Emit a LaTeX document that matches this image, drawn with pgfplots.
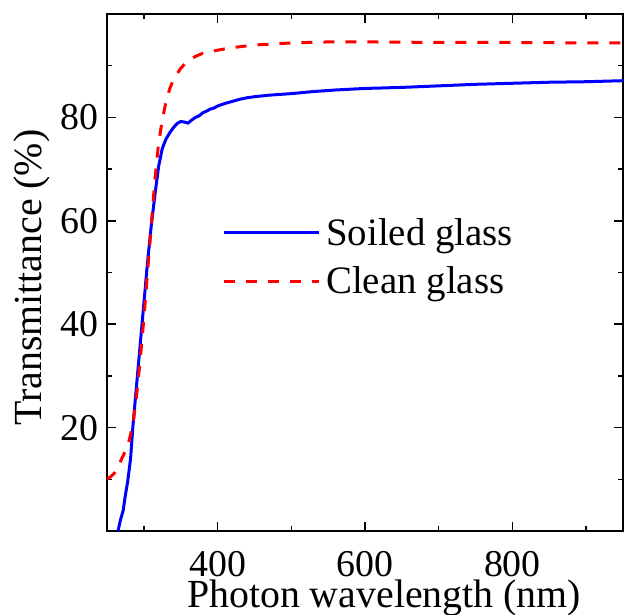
\documentclass[border=0pt]{standalone}
\usepackage{pgfplots}
\pgfplotsset{compat=1.18}
\usepackage{fontspec}
\setmainfont{Liberation Serif}
\begin{document}
\begin{tikzpicture}
\path[use as bounding box] (-107bp,-84bp) rectangle (517bp,531bp);
\begin{axis}[
  at={(0,0)}, anchor=south west,
  scale only axis, width=516bp, height=517bp,
  xmin=250, xmax=950, ymin=0, ymax=100,
  xtick={400,600,800}, minor xtick={300,500,700,900},
  ytick={20,40,60,80}, minor ytick={10,30,50,70,90},
  tick align=inside, tick pos=both,
  major tick length=9bp, minor tick length=5bp,
  every tick/.style={black, line width=1.5bp},
  axis line style={line width=2bp, black},
  /pgf/number format/assume math mode=true,
  ticklabel style={font=\fontsize{38}{40}\selectfont},
  xticklabel style={anchor=base, yshift=-45bp, inner sep=0pt},
  yticklabel style={anchor=east, inner sep=0pt, xshift=-8bp},
  xlabel={Photon wavelength (nm)},
  ylabel={Transmittance (\%)},
  label style={font=\fontsize{40}{44}\selectfont},
  xlabel style={at={(axis description cs:0.537,-0.147)}, anchor=base, inner sep=0pt},
  ylabel style={at={(axis description cs:-0.126,0.49)}, anchor=base, rotate=0, inner sep=0pt},
  legend style={at={(axis description cs:0.223,0.605)}, anchor=north west,
    draw=none, fill=none, inner sep=0pt, row sep=20bp, column sep=6bp,
    font=\fontsize{39}{42}\selectfont, nodes={inner sep=0pt}},
  legend cell align=left,
  legend image code/.code={\draw[#1] (0bp,0bp) -- (95bp,0bp);},
]
\addplot[blue, line width=3bp] coordinates {
(265,0) (268,2) (272,4) (275,7) (278,9.5) (282,14) (285,20) (290,28) (295,36)
(300,44) (305,52) (310,59) (315,65) (320,70.5) (325,74) (330,75.8) (335,77)
(340,78) (345,78.8) (350,79.2) (355,79.1) (360,78.9) (365,79.5) (370,80)
(375,80.3) (380,80.9) (385,81.2) (390,81.6) (395,81.8) (400,82.2) (410,82.7)
(420,83.1) (430,83.5) (440,83.8) (450,84.0) (470,84.3) (500,84.6) (530,85.0)
(560,85.3) (600,85.6) (650,85.8) (700,86.1) (750,86.4) (800,86.6) (850,86.8)
(900,86.9) (950,87.1)
};
\addlegendentry{Soiled glass}
\addplot[red, line width=3bp, dash pattern=on 11bp off 11bp] coordinates {
(250,10.0) (255,10.5) (260,11.2) (265,12.3) (270,14.0) (275,15.5) (280,17.5)
(285,20.5) (290,26) (295,33) (300,41) (305,50) (310,59) (315,68) (320,75)
(325,79.5) (330,83) (335,85.5) (340,87.3) (350,89.5) (360,91) (370,91.8)
(380,92.4) (400,93.0) (420,93.5) (450,94.0) (500,94.4) (550,94.6) (600,94.6)
(700,94.5) (800,94.5) (900,94.4) (950,94.4)
};
\addlegendentry{Clean glass}
\end{axis}
\end{tikzpicture}
\end{document}
